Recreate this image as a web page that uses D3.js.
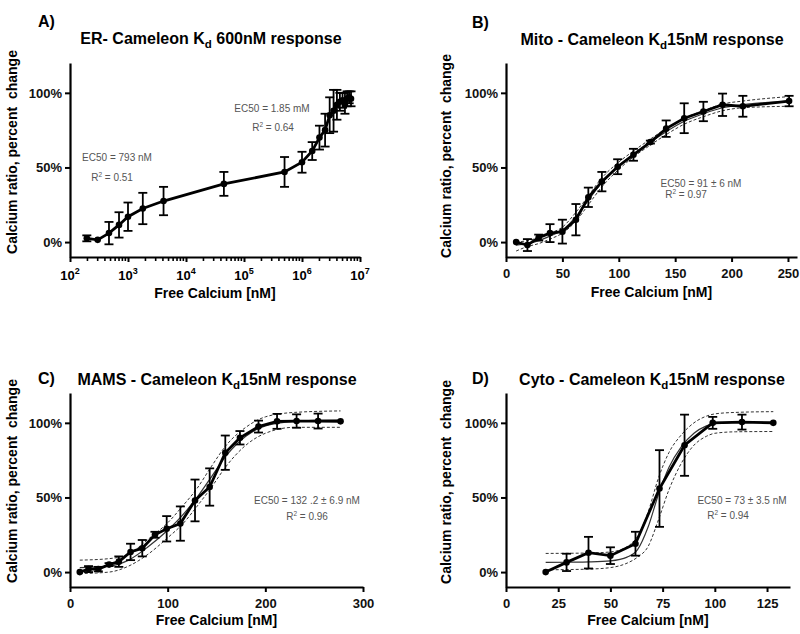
<!DOCTYPE html>
<html>
<head>
<meta charset="utf-8">
<script src="https://cdn.jsdelivr.net/npm/d3@7"></script>
<style>
body { margin: 0; background: #fff; }
svg { font-family: "Liberation Sans", Arial, sans-serif; }
</style>
</head>
<body>
<script>
// A) ER - Cameleon, log x axis
const erX   = [195, 300, 470, 700, 1000, 1800, 4100, 45000, 500000, 1.0e6, 1.5e6, 2.0e6, 2.5e6, 3.0e6, 3.5e6, 4.0e6, 4.5e6, 5.0e6, 5.5e6, 6.0e6, 6.5e6, 7.0e6];
const erY   = [2.5, 1.5, 6, 11.5, 17, 22.5, 27.5, 39, 47, 53.5, 61, 70, 75, 85, 88, 92, 94, 95, 93, 96, 97, 96];
const erErr = [2, 0.5, 7.5, 8.5, 9.5, 10.5, 9.5, 8, 10, 7, 6, 8, 11, 12, 14, 10, 6, 5, 7, 5, 4, 5];

// B) Mito - Cameleon
const mitoX   = [9, 19, 29, 39, 50, 62, 73, 85, 99, 113, 128, 142, 158, 175, 192, 210, 251];
const mitoY   = [0, -2, 3, 6, 7, 15, 30, 40.5, 50.5, 58.5, 67, 76, 83, 87.5, 92, 91, 94.5];
const mitoErr = [0, 4, 2, 6, 8, 10.5, 6.5, 6.5, 5, 4, 1, 5.5, 10, 6.5, 7.5, 7, 3.5];
const mitoFit   = [-2, -1, 1, 4, 8, 17, 28, 40, 50.5, 59, 67, 74, 81, 86, 90, 92, 94.5];
const mitoUpper = [0, 1, 3, 6, 10, 20, 31, 43, 53, 61, 69, 76, 83, 88, 92.5, 94.5, 97.5];
const mitoLower = [-6, -3, -1, 2, 6, 14, 25, 37, 48, 57, 65, 72, 79, 84, 88, 90, 91];

// C) MAMS - Cameleon
const mamsX   = [10, 19, 29, 40, 50, 62, 74, 87, 99, 113, 128, 143, 159, 174, 193, 212, 232, 254, 277];
const mamsY   = [0, 2, 2, 5, 7, 13.5, 16, 25, 29, 32.5, 48, 57, 80, 90, 97.5, 101, 101.2, 101.2, 101];
const mamsErr = [0, 2, 1.5, 1, 3.5, 5.5, 5.5, 2, 8.5, 11.5, 14, 12.5, 11.5, 4.5, 4, 5, 4.5, 5, 0];
const mamsFitX  = [10, 40, 60, 80, 100, 115, 130, 145, 160, 180, 200, 230, 277];
const mamsFit   = [3, 4, 8, 17, 28, 38, 50, 64, 78, 91, 98, 101, 102];
const mamsUpper = [8, 9, 12, 22, 33, 44, 56, 71, 85, 97, 104, 107, 108];
const mamsLower = [-1, 0, 4, 12, 23, 32, 44, 57, 71, 85, 93, 97, 97];

// D) Cyto - Cameleon
const cytoX   = [19, 29, 39.5, 50, 62, 73.5, 85.5, 99, 113, 128];
const cytoY   = [0, 6.5, 13, 11, 19, 56, 85, 100, 100.5, 100];
const cytoErr = [0, 5.8, 10.6, 5.6, 8, 25.7, 20.5, 4, 5, 0];
const cytoFitX  = [19, 30, 40, 50, 58, 63, 68, 73, 78, 84, 90, 96, 100, 110, 128];
const cytoFit   = [6.5, 6.6, 6.8, 7.5, 10, 15, 30, 52, 70, 84, 93, 98, 99.5, 100.3, 100.5];
const cytoUpper = [12.5, 12.6, 12.8, 13.5, 17, 24, 40, 63, 80, 92, 100, 104.5, 106, 107, 107.5];
const cytoLower = [1.5, 1.7, 2, 3, 6, 10, 17, 35, 55, 73, 85, 91, 93, 94, 94.2];

const yTicks = [0, 50, 100];

const svg = d3.select("body").append("svg")
    .attr("width", 800)
    .attr("height", 634);

function drawPanel(p) {
    const g = svg.append("g");
    const x = p.log ? d3.scaleLog() : d3.scaleLinear();
    x.domain(p.xDomain).range(p.xRange);
    const y = d3.scaleLinear().domain([-10, 120]).range(p.yRange);
    const x0 = p.xRange[0], yBase = p.yRange[0];

    // panel letter + title
    g.append("text").attr("x", p.letterX).attr("y", p.letterY)
        .attr("font-size", 16).attr("font-weight", "bold").text(p.letter);
    const t = g.append("text").attr("x", p.titleX).attr("y", p.titleY)
        .attr("text-anchor", "middle").attr("font-size", 16).attr("font-weight", "bold");
    t.append("tspan").text(p.title[0]);
    t.append("tspan").attr("dy", 4).attr("font-size", 11.5).text("d");
    t.append("tspan").attr("dy", -4).text(p.title[1]);

    // y axis
    const ya = g.append("g").attr("transform", `translate(${x0},0)`)
        .call(d3.axisLeft(y).tickValues(yTicks).tickFormat(d => d + "%").tickSize(5).tickSizeOuter(0));
    // x axis
    let xa;
    if (p.log) {
        xa = g.append("g").attr("transform", `translate(0,${yBase})`)
            .call(d3.axisBottom(x).tickValues([1e2, 1e3, 1e4, 1e5, 1e6, 1e7]).tickFormat("").tickSize(5).tickSizeOuter(0));
        const minor = [];
        for (let e = 2; e < 7; e++) for (let m = 2; m < 10; m++) minor.push(m * Math.pow(10, e));
        g.append("g").selectAll("line").data(minor).join("line")
            .attr("x1", d => x(d)).attr("x2", d => x(d))
            .attr("y1", yBase).attr("y2", yBase + 4)
            .attr("stroke", "#000").attr("stroke-width", 1.6);
        const labs = g.append("g").selectAll("text").data([2, 3, 4, 5, 6, 7]).join("text")
            .attr("x", d => x(Math.pow(10, d)))
            .attr("y", yBase + 23)
            .attr("text-anchor", "middle").attr("font-size", 13).attr("font-weight", "bold");
        labs.append("tspan").text("10");
        labs.append("tspan").attr("dy", -6).attr("font-size", 9).text(d => d);
    } else {
        xa = g.append("g").attr("transform", `translate(0,${yBase})`)
            .call(d3.axisBottom(x).tickValues(p.xTicks).tickSize(5).tickSizeOuter(0));
    }
    [ya, xa].forEach(a => {
        a.select(".domain").attr("stroke-width", 2.2);
        a.selectAll(".tick line").attr("stroke-width", 2);
        a.selectAll(".tick text").attr("font-size", 13).attr("font-weight", "bold")
            .attr("font-family", "Liberation Sans, Arial, sans-serif").attr("fill", "#111");
    });
    xa.selectAll(".tick text").attr("dy", "1em");

    // axis titles
    g.append("text").attr("x", (p.xRange[0] + p.xRange[1]) / 2).attr("y", p.xTitleY)
        .attr("text-anchor", "middle").attr("font-size", 14).attr("font-weight", "bold")
        .text("Free Calcium [nM]");
    g.append("text").attr("transform", `translate(${p.yTitleX},${p.yTitleY}) rotate(-90)`)
        .attr("text-anchor", "middle").attr("font-size", 14).attr("font-weight", "bold")
        .attr("xml:space", "preserve")
        .text("Calcium ratio, percent  change");

    const line = d3.line().x(d => x(d[0])).y(d => y(d[1])).curve(d3.curveMonotoneX);

    // fit + confidence band
    if (p.fitX) {
        [p.upper, p.lower].forEach(arr => {
            g.append("path").datum(d3.zip(p.fitX, arr)).attr("d", line)
                .attr("fill", "none").attr("stroke", "#333").attr("stroke-width", 1)
                .attr("stroke-dasharray", "3,2");
        });
        g.append("path").datum(d3.zip(p.fitX, p.fit)).attr("d", line)
            .attr("fill", "none").attr("stroke", "#333").attr("stroke-width", 1.2);
    }

    const pts = d3.zip(p.xs, p.ys, p.errs);
    g.append("path").datum(pts)
        .attr("d", d3.line().x(d => x(d[0])).y(d => y(d[1])))
        .attr("fill", "none").attr("stroke", "#000").attr("stroke-width", 2.8);

    const eb = g.append("g").selectAll("g").data(pts.filter(d => d[2] > 0.8)).join("g")
        .attr("stroke", "#000").attr("stroke-width", 1.8);
    eb.append("line").attr("x1", d => x(d[0])).attr("x2", d => x(d[0]))
        .attr("y1", d => y(d[1] - d[2])).attr("y2", d => y(d[1] + d[2]));
    eb.append("line").attr("x1", d => x(d[0]) - 4.5).attr("x2", d => x(d[0]) + 4.5)
        .attr("y1", d => y(d[1] + d[2])).attr("y2", d => y(d[1] + d[2]));
    eb.append("line").attr("x1", d => x(d[0]) - 4.5).attr("x2", d => x(d[0]) + 4.5)
        .attr("y1", d => y(d[1] - d[2])).attr("y2", d => y(d[1] - d[2]));

    g.append("g").selectAll("circle").data(pts).join("circle")
        .attr("cx", d => x(d[0])).attr("cy", d => y(d[1])).attr("r", 3.3).attr("fill", "#000");

    // annotations
    p.notes.forEach(n => {
        const tx = g.append("text").attr("x", n[0]).attr("y", n[1]).attr("font-size", 10)
            .attr("fill", "#555").attr("text-anchor", "middle");
        if (n[2].startsWith("R")) {
            tx.append("tspan").text("R");
            tx.append("tspan").attr("dy", -4).attr("font-size", 6.5).text("2");
            tx.append("tspan").attr("dy", 4).text(n[2].slice(1));
        } else {
            tx.text(n[2]);
        }
    });
}

drawPanel({
    letter: "A)", letterX: 38, letterY: 27, title: ["ER- Cameleon K", " 600nM response"], titleX: 211, titleY: 44,
    log: true, xDomain: [1e2, 1e7], xRange: [70, 360], yRange: [257, 63],
    xs: erX, ys: erY, errs: erErr, xTitleY: 298, yTitleX: 17, yTitleY: 152,
    notes: [[117, 161, "EC50 = 793 nM"], [112, 181, "R = 0.51"], [272, 112, "EC50 = 1.85 mM"], [273, 131, "R = 0.64"]]
});
drawPanel({
    letter: "B)", letterX: 472, letterY: 28, title: ["Mito - Cameleon K", "15nM response"], titleX: 652, titleY: 45,
    xDomain: [0, 258], xRange: [506, 797], yRange: [257, 63], xTicks: [0, 50, 100, 150, 200, 250],
    xs: mitoX, ys: mitoY, errs: mitoErr, fitX: mitoX, fit: mitoFit, upper: mitoUpper, lower: mitoLower,
    xTitleY: 297, yTitleX: 451, yTitleY: 156,
    notes: [[701, 187, "EC50 = 91 ± 6 nM"], [686, 198, "R = 0.97"]]
});
drawPanel({
    letter: "C)", letterX: 38, letterY: 384, title: ["MAMS - Cameleon K", "15nM response"], titleX: 217, titleY: 385,
    xDomain: [0, 300], xRange: [70, 363], yRange: [587, 393], xTicks: [0, 100, 200, 300],
    xs: mamsX, ys: mamsY, errs: mamsErr, fitX: mamsFitX, fit: mamsFit, upper: mamsUpper, lower: mamsLower,
    xTitleY: 625, yTitleX: 17, yTitleY: 481,
    notes: [[307, 504, "EC50 = 132 .2 ± 6.9 nM"], [307, 520, "R = 0.96"]]
});
drawPanel({
    letter: "D)", letterX: 472, letterY: 384, title: ["Cyto - Cameleon K", "15nM response"], titleX: 652, titleY: 385,
    xDomain: [0, 136], xRange: [506, 790], yRange: [587, 393], xTicks: [0, 25, 50, 75, 100, 125],
    xs: cytoX, ys: cytoY, errs: cytoErr, fitX: cytoFitX, fit: cytoFit, upper: cytoUpper, lower: cytoLower,
    xTitleY: 625, yTitleX: 451, yTitleY: 482,
    notes: [[742, 504, "EC50 = 73 ± 3.5 nM"], [728, 519, "R = 0.94"]]
});
</script>
</body>
</html>
